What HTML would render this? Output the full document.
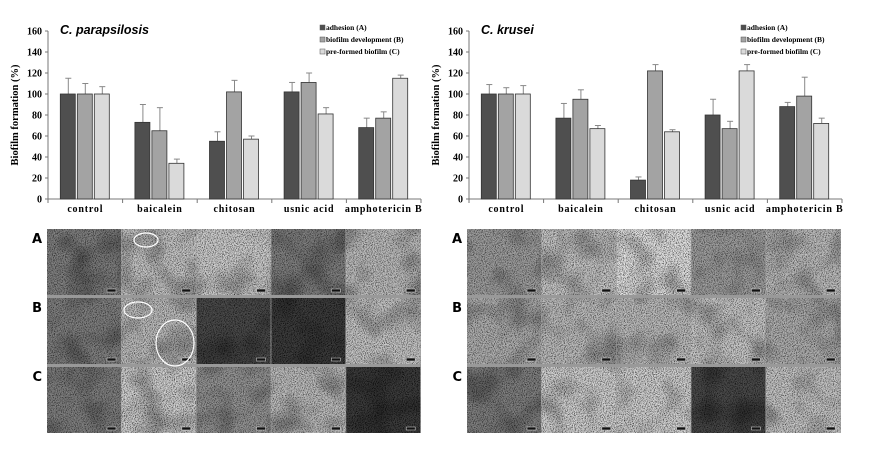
<!DOCTYPE html>
<html><head><meta charset="utf-8"><style>
body{margin:0;background:#fff;width:873px;height:450px;overflow:hidden}
svg{display:block}
</style></head><body>
<svg id="s" width="873" height="450" xmlns="http://www.w3.org/2000/svg">
<defs>
<filter id="n" x="0" y="0" width="100%" height="100%">
<feTurbulence type="fractalNoise" baseFrequency="1.1" numOctaves="1" seed="3"/>
<feColorMatrix type="matrix" values="3 0 0 0 -1  3 0 0 0 -1  3 0 0 0 -1  0 0 0 0 0.85"/>
</filter>
<filter id="m" x="0" y="0" width="100%" height="100%">
<feTurbulence type="fractalNoise" baseFrequency="0.03" numOctaves="2" seed="7"/>
<feColorMatrix type="matrix" values="0 0 0 0 0  0 0 0 0 0  0 0 0 0 0  0 0 0 -2 1.1"/>
</filter>
</defs>
</svg>
<script>
const s=document.getElementById('s');let h='';
const F='font-family="Liberation Serif, serif" font-weight="bold"';
const data=[
 {ox:0,title:'C. parapsilosis',v:[[100,73,55,102,68],[100,65,102,111,77],[100,34,57,81,115]],e:[[115,90,64,111,77],[110,87,113,120,83],[107,38,60,87,118]]},
 {ox:421,title:'C. krusei',v:[[100,77,18,80,88],[100,95,122,67,98],[100,67,64,122,72]],e:[[109,91,21,95,92],[106,104,128,74,116],[108,70,66,128,77]]}];
const cols=['#4f4f4f','#a3a3a3','#dadada'];
const cats=['control','baicalein','chitosan','usnic acid','amphotericin B'];
const Y=v=>199-v*1.05;
data.forEach(d=>{const ax=48+d.ox;
 h+=`<line x1="${ax}" y1="31" x2="${ax}" y2="199" stroke="#777"/><line x1="${ax}" y1="199" x2="${ax+373}" y2="199" stroke="#777"/>`;
 for(let t=0;t<=160;t+=20){h+=`<line x1="${ax-3}" x2="${ax}" y1="${Y(t)}" y2="${Y(t)}" stroke="#777"/><text x="${ax-6}" y="${Y(t)+3.5}" font-size="10" text-anchor="end" ${F}>${t}</text>`}
 for(let i=0;i<=5;i++){const x=ax+i*74.6;h+=`<line x1="${x}" x2="${x}" y1="199" y2="203" stroke="#777"/>`}
 h+=`<text x="${ax-30}" y="115" font-size="10.5" ${F} text-anchor="middle" transform="rotate(-90 ${ax-30} 115)">Biofilm formation (%)</text>`;
 cats.forEach((c,i)=>{const cx=ax+74.6*(i+0.5);
  h+=`<text x="${cx}" y="212" font-size="10" ${F} text-anchor="middle" letter-spacing="0.8">${c}</text>`;
  [0,1,2].forEach(k=>{const x=cx-25+k*17,v=d.v[k][i],e=d.e[k][i];
   h+=`<line x1="${x+8}" x2="${x+8}" y1="${Y(e)}" y2="${Y(v)}" stroke="#888"/><line x1="${x+5}" x2="${x+11}" y1="${Y(e)}" y2="${Y(e)}" stroke="#888"/>`;
   h+=`<rect x="${x}" y="${Y(v)}" width="15" height="${v*1.05}" fill="${cols[k]}" stroke="#333" stroke-width="0.8"/>`;});});
 h+=`<text x="${ax+12}" y="34" font-size="12.5" font-family="Liberation Sans, sans-serif" font-weight="bold" font-style="italic">${d.title}</text>`;
 ['adhesion (A)','biofilm development (B)','pre-formed biofilm (C)'].forEach((t,k)=>{const y=30+k*12;
  h+=`<rect x="${ax+272}" y="${y-5}" width="5" height="5" fill="${cols[k]}" stroke="#555" stroke-width="0.5"/><text x="${ax+278}" y="${y}" font-size="7.5" ${F}>${t}</text>`;});
});
const br=[[[.28,.6,.65,.28,.55],[.28,.55,.1,.06,.6],[.28,.68,.36,.55,.06]],[[.4,.6,.82,.4,.55],[.48,.55,.55,.62,.48],[.28,.68,.68,.1,.6]]];
[47,467].forEach((px,p)=>{
 h+=`<rect x="${px}" y="229" width="374" height="204" fill="#999"/>`;
 const ry=[229,298,367];
 ry.forEach((y,r)=>{
  h+=`<text x="${px-5}" y="${y+14}" font-size="13" font-family="DejaVu Sans, sans-serif" font-weight="bold" text-anchor="end">${'ABC'[r]}</text>`;
  for(let c=0;c<5;c++){const x=px+c*74.8,b=br[p][r][c],g=Math.round(b*255);
   h+=`<rect x="${x}" y="${y}" width="74" height="66" fill="rgb(${g},${g},${g})"/>`;
   h+=`<rect x="${x}" y="${y}" width="74" height="66" filter="url(#n)" opacity="${(0.2+b*0.7).toFixed(2)}"/>`;
   h+=`<rect x="${x}" y="${y}" width="74" height="66" filter="url(#m)" opacity="0.4"/>`;
   h+=`<rect x="${x+60}" y="${y+60}" width="9" height="3" fill="#111" stroke="#ccc" stroke-width="0.6"/>`;
  }});
});
h+=`<ellipse cx="146" cy="240" rx="12" ry="7" fill="none" stroke="#fff" stroke-width="1.2"/><ellipse cx="138" cy="310" rx="14" ry="8" fill="none" stroke="#fff" stroke-width="1.2"/><ellipse cx="175" cy="343" rx="19" ry="23" fill="none" stroke="#fff" stroke-width="1.2"/>`;
s.innerHTML+=h;
</script>
</body></html>
